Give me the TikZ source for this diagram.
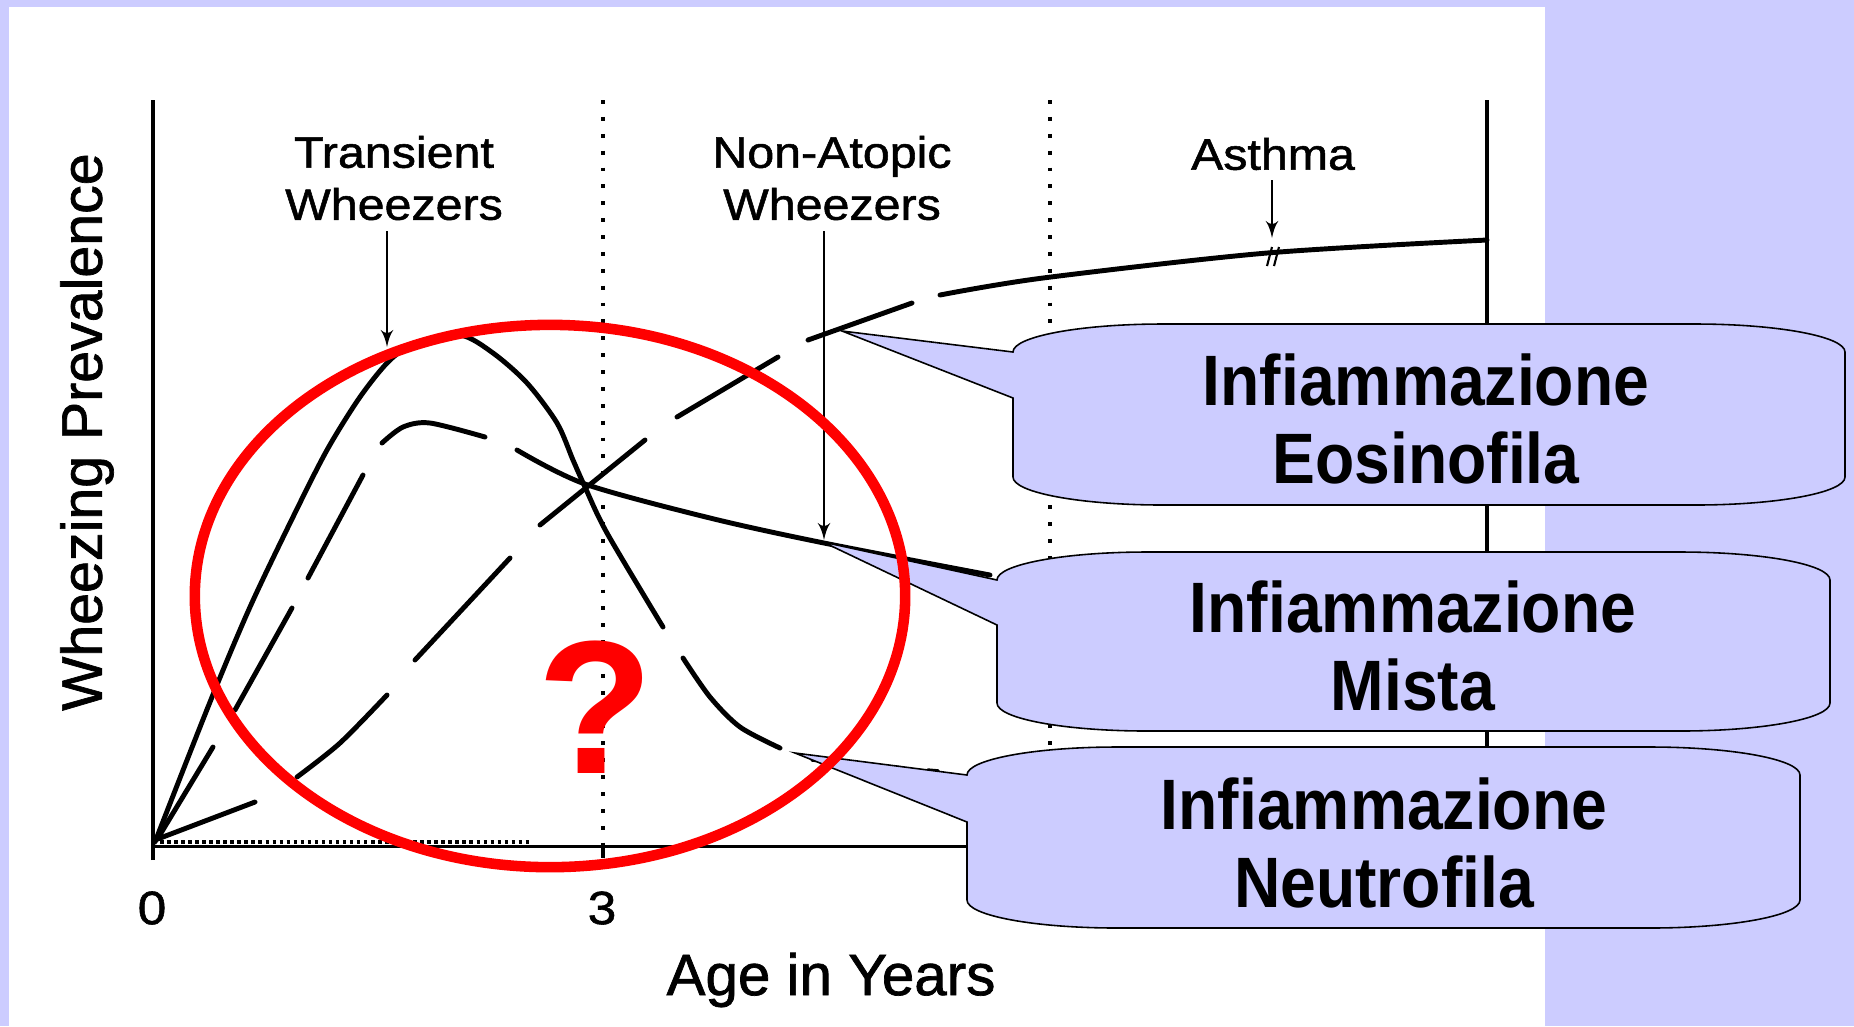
\documentclass[tikz,border=0pt]{standalone}
\usepackage{fontspec}
\setmainfont{Liberation Sans}
\newfontfamily\plotfont[FakeStretch=1.1, FakeBold=1.2]{Liberation Sans}
\newfontfamily\axisfont[FakeBold=1.2]{Liberation Sans}
\newfontfamily\callfont[FakeStretch=0.9]{Liberation Sans}
\usetikzlibrary{arrows}
\definecolor{lavender}{RGB}{204,204,255}
\definecolor{qred}{RGB}{255,0,0}
\tikzset{
    axisline/.style={line width=1.1pt},
    guide/.style={line width=1.1pt, dash pattern=on 1.1pt off 3.7pt},
    trace/.style={line width=1.4pt, line cap=round},
    pointer/.style={-latex', line width=0.7pt},
    plotlabel/.style={font=\plotfont\fontsize{12.5}{14.8}\selectfont, align=center, inner sep=0pt},
    balloon/.style={draw=black, line width=0.45pt, fill=lavender},
    balloontext/.style={font=\callfont\bfseries\fontsize{20.3}{22}\selectfont, align=center, inner sep=0pt}
    }

\begin{document}
\begin{tikzpicture}[x=0.01cm, y=-0.01cm]
        \useasboundingbox (0,0) rectangle (1854,1026);
        \fill[lavender] (0,0) rectangle (1854,1026);
        \fill[white] (9,7) rectangle (1545,1026);

        % axes
        \coordinate (origin) at (153,846);
        \coordinate (ytop) at (153,100);
        \coordinate (xend) at (1487,846);
        \draw[axisline] (153,860) -- (ytop);
        \draw[axisline, line width=0.85pt] (origin) -- (xend);
        \draw[axisline] (1487,100) -- (xend);
        \draw[axisline] (603,846) -- (603,858);
        \draw[guide] (603,100) -- (603,846);
        \draw[guide] (1050,100) -- (1050,846);

        % axis labels
        \node[plotlabel, font=\plotfont\fontsize{13.3}{13.3}\selectfont] (zero) at (152,908) {0};
        \node[plotlabel, font=\plotfont\fontsize{13.3}{13.3}\selectfont] (three) at (602,908) {3};
        \node[inner sep=0pt, font=\axisfont\fontsize{16.6}{16.6}\selectfont] (xlabel) at (831,980) {Age in Years};
        \node[inner sep=0pt, rotate=90, font=\axisfont\fontsize{16.3}{16.3}\selectfont] (ylabel) at (87,432) {Wheezing Prevalence};

        % phenotype labels
        \node[plotlabel] (transient) at (394,178) {Transient\\Wheezers};
        \node[plotlabel] (nonatopic) at (832,178) {Non-Atopic\\Wheezers};
        \node[plotlabel] (asthma) at (1273,154) {Asthma};

        % transient wheezers
        \draw[trace] plot[smooth] coordinates {(155,842) (210,702) (250,607) (293,517) (327,450) (360,397) (390,360) (417,343) (460,335) (493,353) (527,383) (557,423) (573,460) (585,487) (607,533) (663,627)};
        \draw[trace] plot[smooth] coordinates {(683,658) (710,697) (740,727) (780,748)};
        \draw[trace, line width=1pt, dash pattern=on 3pt off 8pt] (812,760) -- (950,772);

        % non-atopic wheezers
        \draw[trace] (158,838) -- (213,747);
        \draw[trace] (235,710) -- (292,608);
        \draw[trace] (308,578) -- (363,475);
        \draw[trace] plot[smooth] coordinates {(382,443) (403,427) (430,423) (485,437)};
        \draw[trace] plot[smooth] coordinates {(517,450) (585,484) (710,518) (824,543) (990,575)};

        % asthma
        \draw[trace] (155,840) -- (255,802);
        \draw[trace] plot[smooth] coordinates {(297,777) (340,743) (387,695)};
        \draw[trace] (415,660) -- (510,558);
        \draw[trace] (540,525) -- (645,440);
        \draw[trace] (677,417) -- (778,357);
        \draw[trace] (808,340) -- (912,303);
        \draw[trace] plot[smooth] coordinates {(940,295) (1043,278) (1267,253) (1487,240)};
        \draw[line width=0.6pt] (1267,266) -- (1272,247) (1274,266) -- (1279,247);
        \draw[line width=1pt, densely dotted] (160,842) -- (530,842);

        % arrows
        \coordinate (transPeak) at (387,347);
        \coordinate (nonatopicMark) at (824,540);
        \coordinate (asthmaMark) at (1272,238);
        \draw[pointer] (387,231) -- (transPeak);
        \draw[pointer] (824,231) -- (nonatopicMark);
        \draw[pointer] (1272,180) -- (asthmaMark);

        % callouts
        \coordinate (eosTip) at (842,331);
        \coordinate (mixTip) at (823,542);
        \coordinate (neuTip) at (795,753);
        \draw[balloon] (1013,352) -- (eosTip) -- (1013,398) -- (1013,477) .. controls (1013,492.5) and (1080,505) .. (1163,505) -- (1695,505) .. controls (1778,505) and (1845,492.5) .. (1845,477) -- (1845,352) .. controls (1845,336.5) and (1778,324) .. (1695,324) -- (1163,324) .. controls (1080,324) and (1013,336.5) .. (1013,352) -- cycle;
        \draw[balloon] (997,580) -- (mixTip) -- (997,625) -- (997,703) .. controls (997,718.5) and (1064,731) .. (1147,731) -- (1680,731) .. controls (1763,731) and (1830,718.5) .. (1830,703) -- (1830,580) .. controls (1830,564.5) and (1763,552) .. (1680,552) -- (1147,552) .. controls (1064,552) and (997,564.5) .. (997,580) -- cycle;
        \draw[balloon] (967,775) -- (neuTip) -- (967,822) -- (967,900) .. controls (967,915.5) and (1034,928) .. (1117,928) -- (1650,928) .. controls (1733,928) and (1800,915.5) .. (1800,900) -- (1800,775) .. controls (1800,759.5) and (1733,747) .. (1650,747) -- (1117,747) .. controls (1034,747) and (967,759.5) .. (967,775) -- cycle;
        \node[balloontext] (eos) at (1426,419) {Infiammazione\\Eosinofila};
        \node[balloontext] (mix) at (1413,646) {Infiammazione\\Mista};
        \node[balloontext] (neu) at (1384,843) {Infiammazione\\Neutrofila};

        % question
        \draw[qred, line width=3pt] (550,596) ellipse [x radius=3.55cm, y radius=2.71cm];
        \node[inner sep=0pt, text=qred, font=\bfseries\fontsize{54}{54}\selectfont] (query) at (595,707) {?};
    \end{tikzpicture}
\end{document}
